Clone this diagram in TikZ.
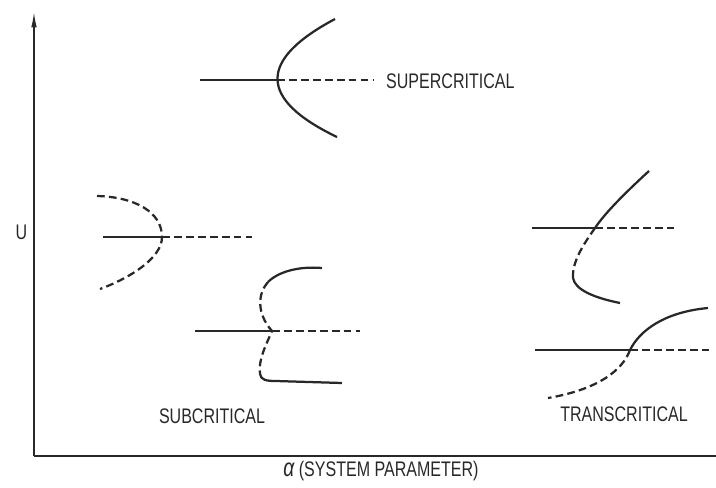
\documentclass[tikz,border=0pt]{standalone}
\usepackage{fontspec}
\setmainfont{Liberation Sans}
\usepackage{tikz}
\usetikzlibrary{arrows.meta}
\definecolor{ink}{RGB}{40,40,40}

\begin{document}
\begin{tikzpicture}[x=0.025cm,y=-0.025cm,
    stable/.style={ink,line width=1.6pt},
    unstable/.style={ink,line width=1.6pt,dash pattern=on 5.5pt off 3pt},
    axis/.style={ink,line width=1pt},
    lbl/.style={font=\fontsize{15}{18}\selectfont,text=ink,xscale=0.76,inner sep=0pt},
    >={Latex[length=11pt,width=4pt]}
  ]
  \useasboundingbox (0,0) rectangle (716,487);

  % axes
  \coordinate (origin) at (34,456);
  \coordinate (ytop) at (34,12);
  \coordinate (xend) at (716,456);
  \draw[axis,->] (origin) -- (ytop);
  \draw[axis] (origin) -- (xend);
  \node[lbl] (ulbl) at (21.5,232) {U};
  \node[lbl] (xlbl) at (381,471) {{\fontsize{18}{18}\selectfont\itshape α} (SYSTEM PARAMETER)};

  % supercritical
  \draw[stable] (200,80) -- (277,80);
  \draw[unstable] (277,80) -- (373,80);
  \draw[stable] (335,19) .. controls (258,60) and (258,99) .. (337,137);
  \node[lbl,anchor=west] (super) at (386,81) {SUPERCRITICAL};

  % subcritical, pitchfork
  \draw[stable] (103,237) -- (162,237);
  \draw[unstable] (162,237) -- (252,237);
  \draw[unstable] (97,196) .. controls (135,197) and (162,212) .. (162,237)
    .. controls (162,258) and (130,278) .. (100,289);

  % subcritical, with turning points
  \draw[stable] (195,331) -- (272,331);
  \draw[unstable] (272,331) -- (360,331);
  \draw[stable] (322,268) .. controls (298,266) and (278,272) .. (268,282);
  \draw[unstable] (268,282) .. controls (258,293) and (256,313) .. (272,331)
    .. controls (266,345) and (258,360) .. (260,374);
  \draw[stable] (260,374) .. controls (261,380) and (266,381) .. (276,381) -- (342,383);
  \node[lbl] (sub) at (212,416) {SUBCRITICAL};

  % transcritical, turning point
  \draw[stable] (532,228) -- (595,228);
  \draw[unstable] (595,228) -- (677,228);
  \draw[stable] (649,171) .. controls (625,193) and (605,213) .. (595,228);
  \draw[unstable] (595,228) .. controls (583,245) and (572,262) .. (573,278);
  \draw[stable] (573,278) .. controls (575,290) and (595,298) .. (620,303);

  % transcritical
  \draw[stable] (535,350) -- (630,350);
  \draw[unstable] (630,350) -- (710,350);
  \draw[stable] (630,350) .. controls (640,330) and (665,312) .. (708,308);
  \draw[unstable] (630,350) .. controls (622,372) and (595,390) .. (548,398);
  \node[lbl] (trans) at (624,414) {TRANSCRITICAL};
\end{tikzpicture}
\end{document}
